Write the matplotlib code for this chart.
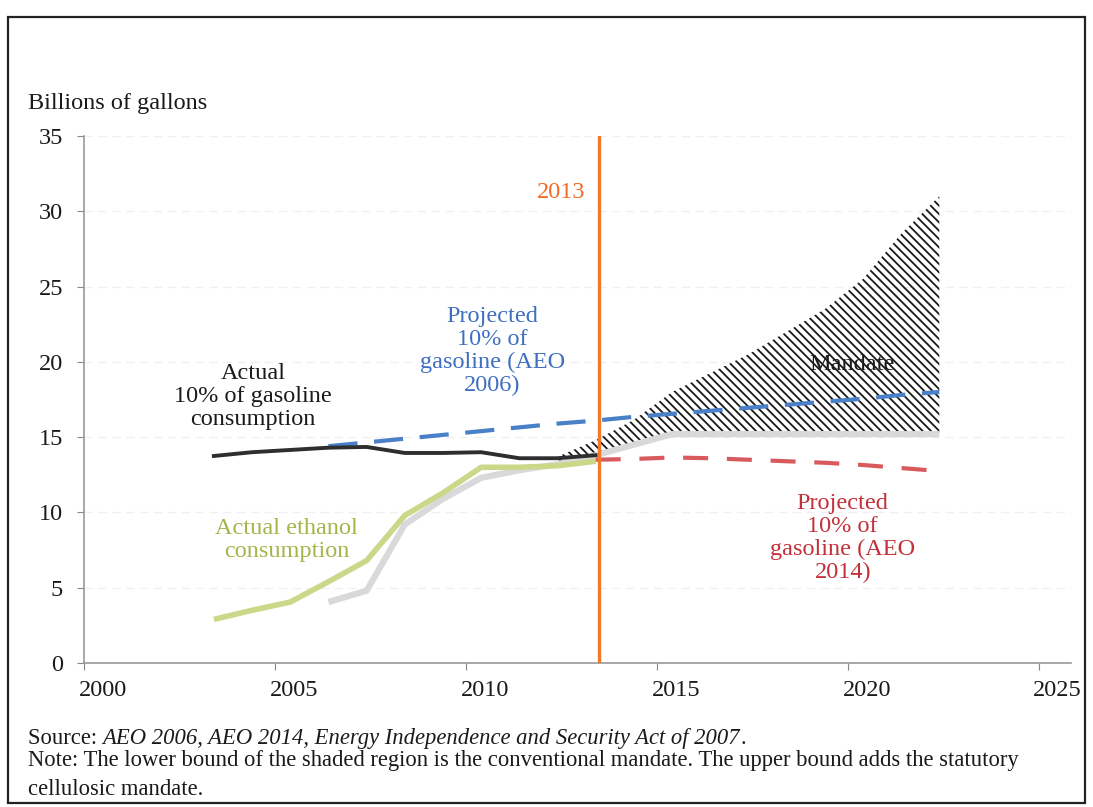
import matplotlib
matplotlib.use("Agg")
import matplotlib.pyplot as plt
from matplotlib.patches import Rectangle
from matplotlib.transforms import ScaledTranslation

plt.rcParams['font.family'] = ['Liberation Serif', 'DejaVu Serif']
plt.rcParams['hatch.linewidth'] = 1.3

# points are drawn at mid-year on this chart
MID = 0.4

# actual 10% of gasoline consumption
gas_years = [2003, 2004, 2005, 2006, 2007, 2008, 2009, 2010, 2011, 2012, 2013]
gas_actual = [13.75, 14.0, 14.15, 14.3, 14.35, 13.95, 13.95, 14.0, 13.6, 13.6, 13.8]

# actual ethanol consumption
eth_years = [2003, 2004, 2005, 2006, 2007, 2008, 2009, 2010, 2011, 2012, 2013]
eth_actual = [2.9, 3.5, 4.05, 5.4, 6.8, 9.8, 11.3, 13.0, 13.0, 13.1, 13.4]

# conventional mandate (grey line, lower bound of shaded area)
conv_years = [2006, 2007, 2008, 2009, 2010, 2011, 2012, 2013, 2014, 2015,
              2016, 2017, 2018, 2019, 2020, 2021, 2022]
conv_mandate = [4.05, 4.8, 9.2, 10.9, 12.3, 12.8, 13.2, 13.8, 14.5, 15.2,
                15.2, 15.2, 15.2, 15.2, 15.2, 15.2, 15.2]

# conventional + cellulosic mandate (upper bound)
mand_years = [2012, 2013, 2014, 2015, 2016, 2017, 2018, 2019, 2020, 2021, 2022]
mand_upper = [13.7, 14.8, 16.15, 18.0, 19.25, 20.5, 22.0, 23.5, 25.5, 28.5, 31.0]

# projected 10% of gasoline, AEO 2006
aeo06_years = [2006, 2007, 2008, 2009, 2010, 2011, 2012, 2013, 2014,
               2015, 2016, 2017, 2018, 2019, 2020, 2021, 2022]
aeo06 = [14.4, 14.65, 14.9, 15.15, 15.4, 15.65, 15.9, 16.1, 16.35,
         16.55, 16.75, 16.95, 17.15, 17.35, 17.55, 17.8, 18.0]

# projected 10% of gasoline, AEO 2014
aeo14_years = [2013, 2014, 2015, 2016, 2017, 2018, 2019, 2020, 2021, 2022]
aeo14 = [13.5, 13.55, 13.65, 13.6, 13.5, 13.4, 13.3, 13.15, 12.95, 12.75]

marker_year = 2013.5
x_ticks = [2000, 2005, 2010, 2015, 2020, 2025]
y_ticks = [0, 5, 10, 15, 20, 25, 30, 35]


def shift(years):
    return [y + MID for y in years]


fig = plt.figure(figsize=(10.93, 8.07), dpi=100)
ax = fig.add_axes([0.0769, 0.1784, 0.903, 0.6531])

# shaded mandate band
lower = [conv_mandate[conv_years.index(y)] for y in mand_years]
ax.fill_between(shift(mand_years), lower, mand_upper, facecolor='none',
                edgecolor='#1a1a1a', hatch='\\\\\\\\', linewidth=0)

ax.plot(shift(conv_years), conv_mandate, color='#d9d9dc', lw=4.5,
        solid_capstyle='butt', zorder=3)
ax.plot(shift(eth_years), eth_actual, color='#cbd889', lw=4,
        solid_capstyle='butt', zorder=4)
ax.plot(shift(gas_years), gas_actual, color='#2e2e2e', lw=2.8, zorder=5)
ax.plot(shift(aeo06_years), aeo06, color='#4a80c8', lw=3, dashes=(7, 4), zorder=4)
ax.plot(shift(aeo14_years), aeo14, color='#d95a5c', lw=3, dashes=(6, 4.5), zorder=4)
ax.axvline(marker_year, color='#f07a2a', lw=2.4, zorder=6)

ax.set_xlim(2000, 2025.85)
ax.set_ylim(0, 35)
ax.set_xticks(x_ticks)
ax.set_yticks(y_ticks)
ax.tick_params(axis='both', labelsize=17.5, colors='#888888', labelcolor='#1a1a1a')
ax.tick_params(axis='x', direction='out', length=5, pad=7)
ax.tick_params(axis='y', direction='out', length=5, pad=10)
# year labels sit a little to the right of their ticks
for lab in ax.get_xticklabels():
    lab.set_transform(lab.get_transform() + ScaledTranslation(0.19, 0, fig.dpi_scale_trans))
for s in ['top', 'right']:
    ax.spines[s].set_visible(False)
for s in ['left', 'bottom']:
    ax.spines[s].set_color('#999999')
    ax.spines[s].set_linewidth(1.2)
ax.grid(axis='y', color='#f0f0f0', lw=1.0, ls=(0, (6, 4)))
ax.set_axisbelow(True)

fs = 17.5
ax.text(2004.42, 17.7, "Actual\n10% of gasoline\nconsumption", ha='center', va='center',
        fontsize=fs, color='#1a1a1a', linespacing=1.12)
ax.text(2010.7, 20.7, "Projected\n10% of\ngasoline (AEO\n2006)", ha='center', va='center',
        fontsize=fs, color='#3f6fc0', linespacing=1.12)
ax.text(2020.1, 19.85, "Mandate", ha='center', va='center', fontsize=fs,
        color='#1a1a1a', zorder=7)
ax.text(2005.3, 8.2, "Actual ethanol\nconsumption", ha='center', va='center',
        fontsize=fs, color='#a6b44a', linespacing=1.12)
ax.text(2019.87, 8.3, "Projected\n10% of\ngasoline (AEO\n2014)", ha='center', va='center',
        fontsize=fs, color='#c3303a', linespacing=1.12)
ax.text(2012.5, 31.25, "2013", ha='center', va='center', fontsize=fs, color='#f06a22')

fig.text(0.0256, 0.872, "Billions of gallons", ha='left', va='center',
         fontsize=fs, color='#1a1a1a')

# notes under the chart
nfs = 16.3
src = fig.text(0.0256, 0.0855, "Source: ", ha='left', va='center', fontsize=nfs,
               color='#1a1a1a')
fig.canvas.draw()
bb = src.get_window_extent(renderer=fig.canvas.get_renderer())
ital = fig.text(bb.x1 / fig.bbox.width, 0.0855,
                "AEO 2006, AEO 2014, Energy Independence and Security Act of 2007",
                ha='left', va='center', fontsize=nfs, style='italic', color='#1a1a1a')
bb2 = ital.get_window_extent(renderer=fig.canvas.get_renderer())
fig.text(bb2.x1 / fig.bbox.width, 0.0855, ".", ha='left', va='center',
         fontsize=nfs, color='#1a1a1a')
fig.text(0.0256, 0.058,
         "Note: The lower bound of the shaded region is the conventional mandate. "
         "The upper bound adds the statutory",
         ha='left', va='center', fontsize=nfs, color='#1a1a1a')
fig.text(0.0256, 0.0223, "cellulosic mandate.", ha='left', va='center',
         fontsize=nfs, color='#1a1a1a')

# frame around the figure
fig.patches.append(Rectangle((8 / 1093, 4 / 807), 1077 / 1093, 786 / 807,
                             transform=fig.transFigure, fill=False,
                             edgecolor='#222222', lw=1.6))

fig.savefig("out.png", dpi=100)
